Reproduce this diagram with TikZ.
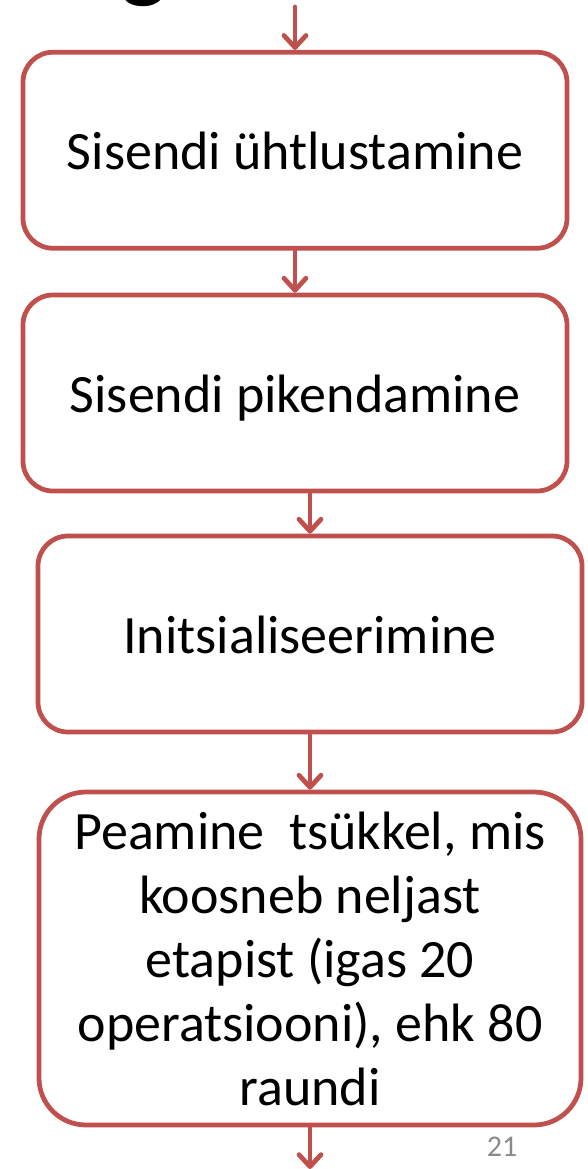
\documentclass[tikz,border=0pt]{standalone}
\usepackage{fontspec}
\setmainfont{Carlito}
\usetikzlibrary{arrows.meta}
\definecolor{boxred}{RGB}{192,80,77}
\definecolor{pagegray}{RGB}{137,137,137}

\begin{document}
\begin{tikzpicture}[line cap=round,line join=round,>={Straight Barb[length=12pt,width=22pt,round]},x=1pt,y=-1pt,
  stage/.style={draw=boxred,line width=4.75pt,rounded corners=30pt,minimum width=544pt,minimum height=196pt,inner sep=0pt,font=\fontsize{54}{64}\selectfont},
  flow/.style={->,draw=boxred,line width=4.75pt}]
\useasboundingbox (0,0) rectangle (587,1169);

% cut-off title above
\node[anchor=base west,inner sep=0pt,font=\fontsize{100}{100}\selectfont] (title) at (120,-10) {g};

\node[stage,text height=38pt,text depth=0pt] (s1) at (295,150.25) {Sisendi ühtlustamine};
\node[stage,text height=38pt,text depth=0pt] (s2) at (295,393) {Sisendi pikendamine};
\node[stage,text height=38pt,text depth=0pt] (s3) at (310,634) {Initsialiseerimine};
\node[stage,rounded corners=47pt,minimum width=542pt,minimum height=333pt,align=center] (s4) at (310,958.5)
  {Peamine~ tsükkel, mis\\koosneb neljast\\etapist (igas 20\\operatsiooni), ehk 80\\raundi};

\coordinate (in) at (295,7);
\coordinate (out) at (310,1169);
\draw[flow] (in) -- (s1);
\draw[flow] (s1) -- (s2);
\draw[flow] (s3.north |- s2.south) -- (s3);
\draw[flow] (s3) -- (s4);
\draw[flow] (s4) -- (out);

\node[anchor=base,inner sep=0pt,text=pagegray,font=\fontsize{30}{30}\selectfont] (page) at (502,1156) {21};

\end{tikzpicture}
\end{document}
